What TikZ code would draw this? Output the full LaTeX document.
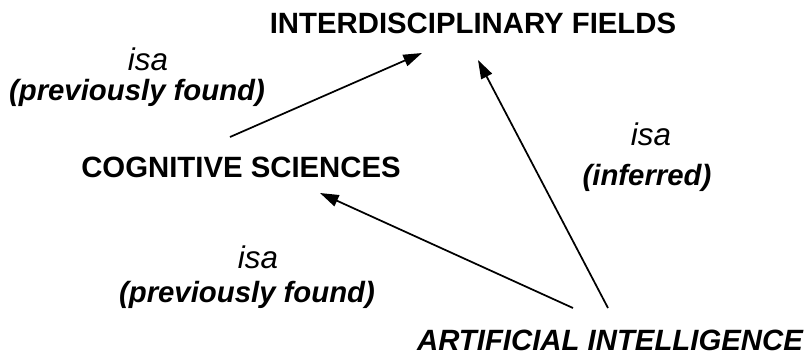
\documentclass[tikz,border=0pt]{standalone}
\usepackage{fontspec}
\setmainfont{Liberation Sans}
\usepackage{tikz}
\usetikzlibrary{arrows.meta,calc}
\tikzset{every picture/.style={line width=0.75pt}}
\tikzset{
  isaarrow/.style={line width=1.3pt, -{Triangle[length=14pt,width=9pt]}},
  concept/.style={anchor=base, inner sep=0.75pt, font=\fontsize{22}{26}\selectfont\bfseries},
  relname/.style={anchor=base, inner sep=0.75pt, font=\fontsize{23.5}{27}\selectfont\itshape},
  relnote/.style={anchor=base, inner sep=0.75pt, font=\fontsize{22}{26}\selectfont\bfseries\itshape}
}

\begin{document}
\begin{tikzpicture}[x=0.75pt,y=0.75pt,yscale=-1,xscale=1]
\useasboundingbox (0,0) rectangle (804,358);

% concepts
\draw (473,33) node (fields) [concept] {INTERDISCIPLINARY FIELDS};
\draw (241,177) node (cogsci) [concept] {COGNITIVE SCIENCES};
\draw (610,350) node (ai) [concept, font=\fontsize{22}{26}\selectfont\bfseries\itshape] {ARTIFICIAL INTELLIGENCE};

% relation labels
\draw (148,70) node (isaA) [relname] {isa};
\draw (137,100) node (noteA) [relnote] {(previously found)};
\draw (651,145) node (isaB) [relname] {isa};
\draw (647,185) node (noteB) [relnote] {(inferred)};
\draw (258,268) node (isaC) [relname] {isa};
\draw (247,302) node (noteC) [relnote] {(previously found)};

% isa links
\draw [isaarrow] ($(cogsci.base)+(-11,-40)$) -- ($(fields.base)+(-51,20)$);
\draw [isaarrow] ($(ai.base)+(-2,-42)$) -- ($(fields.base)+(5,27)$);
\draw [isaarrow] ($(ai.base)+(-37,-42)$) -- ($(cogsci.base)+(79,16)$);
\end{tikzpicture}
\end{document}
